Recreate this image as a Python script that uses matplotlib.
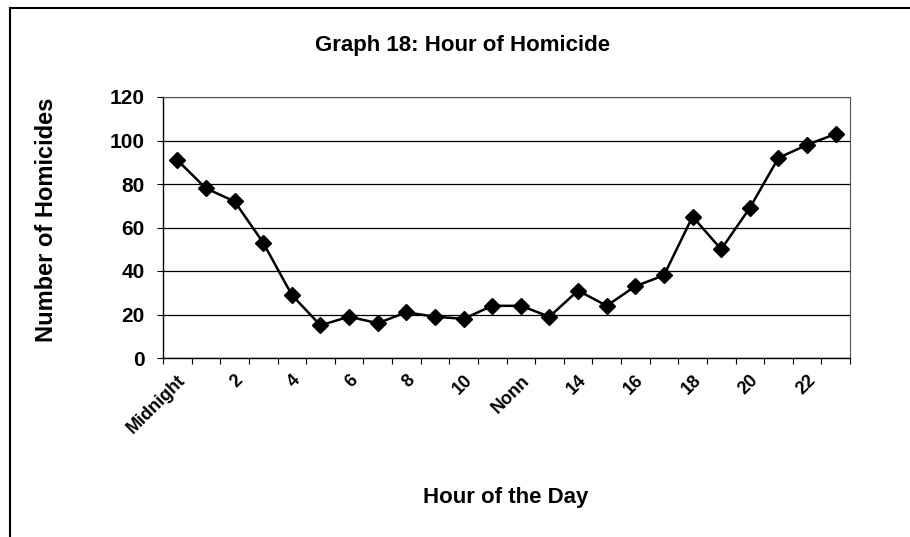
import matplotlib
matplotlib.use("Agg")
import matplotlib.pyplot as plt
from matplotlib.lines import Line2D
import numpy as np

plt.rcParams['font.family'] = ['Liberation Sans', 'DejaVu Sans']

hours = list(range(24))
homicides = [91, 78, 72, 53, 29, 15, 19, 16, 21, 19, 18, 24,
             24, 19, 31, 24, 33, 38, 65, 50, 69, 92, 98, 103]
tick_labels = ["Midnight", "2", "4", "6", "8", "10", "Nonn",
               "14", "16", "18", "20", "22"]
label_positions = hours[::2]

fig = plt.figure(figsize=(9.1, 5.37), dpi=100)
ax = fig.add_axes([163/910, 1 - 358/537, (850 - 163)/910, (358 - 97)/537])

ax.plot(hours, homicides, color='black', lw=1.8, marker='D', ms=8.5,
        markerfacecolor='black', markeredgecolor='black', zorder=3)

ax.set_xlim(-0.5, 23.5)
ax.set_ylim(0, 120)
ax.set_yticks(range(0, 121, 20))
ax.yaxis.grid(True, color='black', lw=0.9)
ax.set_axisbelow(True)

ax.set_xticks(label_positions)
ax.set_xticklabels(tick_labels, rotation=45, ha='right', rotation_mode='anchor',
                   fontsize=13, fontweight='bold')
ax.tick_params(axis='x', which='major', length=0, pad=10)
ax.set_xticks(np.arange(-0.5, 24, 1), minor=True)
ax.tick_params(axis='x', which='minor', length=4, width=0.8, direction='out')
ax.tick_params(axis='y', length=4, width=0.8, labelsize=15, pad=9)
for lab in ax.get_yticklabels():
    lab.set_fontweight('bold')

ax.spines['left'].set_color('black')
ax.spines['bottom'].set_color('black')
ax.spines['left'].set_linewidth(1.0)
ax.spines['bottom'].set_linewidth(1.0)
ax.spines['top'].set_color('#555555')
ax.spines['right'].set_color('#555555')
ax.spines['top'].set_linestyle((0, (4, 1)))
ax.spines['right'].set_linestyle((0, (2, 1)))

ax.set_ylabel("Number of Homicides", fontsize=17, fontweight='bold')
ax.yaxis.set_label_coords((58 - 163) / 687, (358 - 220) / 261)
fig.text(463/910, 1 - 46/537, "Graph 18: Hour of Homicide", ha='center', va='center',
         fontsize=16, fontweight='bold')
fig.text(506/910, 1 - 497/537, "Hour of the Day", ha='center', va='center',
         fontsize=16, fontweight='bold')

# outer chart border (left and top edges visible)
fig.add_artist(Line2D([10/910, 10/910], [0, 1 - 8/537], transform=fig.transFigure,
                      color='black', lw=1.5))
fig.add_artist(Line2D([10/910, 1], [1 - 8/537, 1 - 8/537], transform=fig.transFigure,
                      color='black', lw=1.5))

fig.savefig("out.png", dpi=100)
